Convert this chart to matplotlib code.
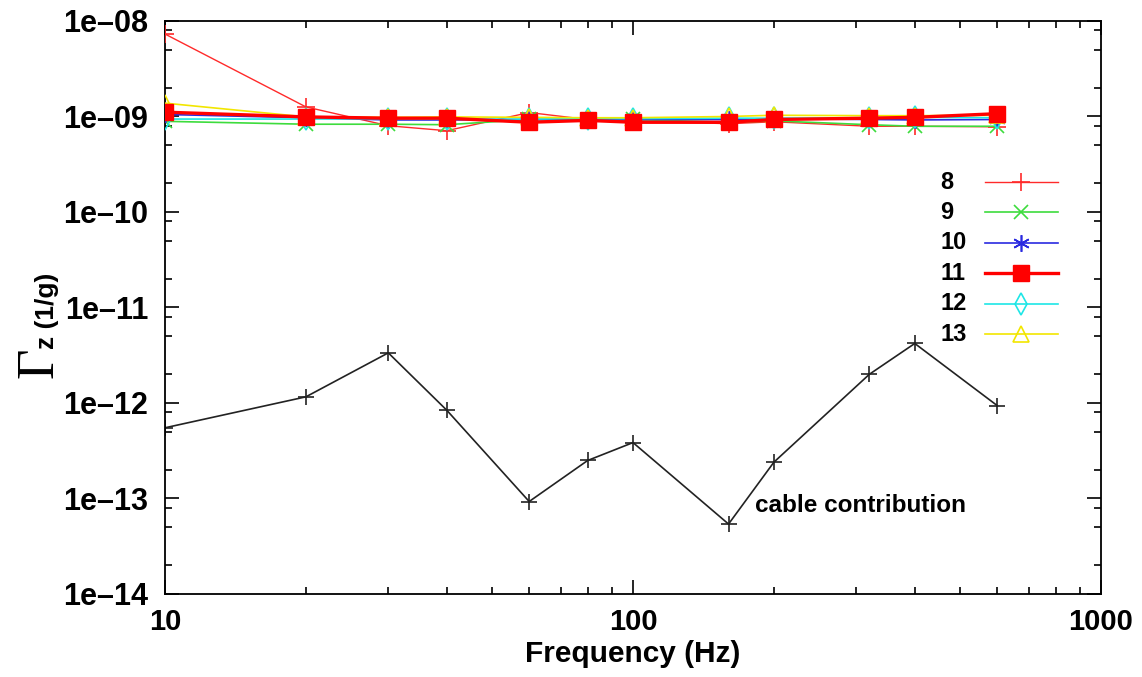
import matplotlib
matplotlib.use("Agg")
import matplotlib.pyplot as plt
from matplotlib.lines import Line2D
from matplotlib.ticker import LogLocator, FixedLocator, FixedFormatter, NullFormatter

plt.rcParams['font.family'] = ['Liberation Sans', 'DejaVu Sans']
plt.rcParams['font.weight'] = 'bold'

# frequencies of the measurement points (Hz)
freq = [10, 20, 30, 40, 60, 80, 100, 160, 200, 320, 400, 600]

# Gamma_z per channel (1/g)
ch8 = [7.3e-9, 1.26e-9, 8.0e-10, 7.1e-10, 1.1e-9, 9.3e-10, 9.0e-10, 8.4e-10, 8.8e-10, 7.9e-10, 7.9e-10, 7.8e-10]
ch9 = [8.9e-10, 8.3e-10, 8.3e-10, 8.2e-10, 9.3e-10, 9.2e-10, 9.3e-10, 8.7e-10, 9.0e-10, 8.2e-10, 7.9e-10, 7.9e-10]
ch10 = [1.05e-9, 9.7e-10, 9.2e-10, 9.2e-10, 9.3e-10, 9.3e-10, 9.3e-10, 9.3e-10, 9.5e-10, 9.3e-10, 9.2e-10, 9.3e-10]
ch11 = [1.11e-9, 9.9e-10, 9.6e-10, 9.6e-10, 8.7e-10, 9.1e-10, 8.7e-10, 8.7e-10, 9.3e-10, 9.6e-10, 9.8e-10, 1.07e-9]
ch12 = [9.4e-10, 9.4e-10, 9.5e-10, 9.4e-10, 9.4e-10, 9.5e-10, 9.5e-10, 9.6e-10, 9.6e-10, 9.7e-10, 9.8e-10, 9.7e-10]
ch13 = [1.38e-9, 9.9e-10, 9.8e-10, 9.9e-10, 9.8e-10, 9.7e-10, 9.7e-10, 1.0e-9, 1.03e-9, 1.02e-9, 1.02e-9, 1.03e-9]

cable = [5.5e-13, 1.16e-12, 3.35e-12, 8.4e-13, 9.3e-14, 2.5e-13, 3.85e-13, 5.4e-14, 2.4e-13, 2.0e-12, 4.2e-12, 9.4e-13]

labels = ["8", "9", "10", "11", "12", "13"]
yticks = [1e-14, 1e-13, 1e-12, 1e-11, 1e-10, 1e-9, 1e-8]
ytick_labels = ["1e\u201314", "1e\u201313", "1e\u201312", "1e\u201311", "1e\u201310", "1e\u201309", "1e\u201308"]
xticks = [10, 100, 1000]
xtick_labels = ["10", "100", "1000"]

styles = [
    dict(color='#ff2a2a', marker='+', ms=13, lw=1.0, mew=1.2, mfc='none'),
    dict(color='#3ddc3d', marker='x', ms=10, lw=1.2, mew=1.2, mfc='none'),
    dict(color='#2a2ae0', marker=(6, 2, 0), ms=12, lw=1.2, mew=1.2, mfc='none'),
    dict(color='#ff0000', marker='s', ms=12, lw=2.4, mew=1.0, mfc='#ff0000'),
    dict(color='#1ee6e6', marker='d', ms=11, lw=1.2, mew=1.2, mfc='none'),
    dict(color='#f2e600', marker='^', ms=11, lw=1.2, mew=1.2, mfc='none'),
]
series = [ch8, ch9, ch10, ch11, ch12, ch13]
order = [1, 2, 3, 6, 4, 5]

fig = plt.figure(figsize=(11.42, 6.77), dpi=100)
ax = fig.add_axes([0.1445, 0.1226, 0.8196, 0.8464])

for vals, st, z in zip(series, styles, order):
    ax.plot(freq, vals, zorder=z + 2, **st)

ax.plot(freq, cable, color='#222222', marker='+', ms=11, lw=1.2, mew=1.2)

ax.set_xscale('log')
ax.set_yscale('log')
ax.set_xlim(10, 1000)
ax.set_ylim(1e-14, 1e-8)

ax.yaxis.set_major_locator(FixedLocator(yticks))
ax.yaxis.set_major_formatter(FixedFormatter(ytick_labels))
ax.yaxis.set_minor_locator(LogLocator(base=10, subs=(2, 5, 8)))
ax.yaxis.set_minor_formatter(NullFormatter())
ax.xaxis.set_major_locator(FixedLocator(xticks))
ax.xaxis.set_major_formatter(FixedFormatter(xtick_labels))
ax.xaxis.set_minor_locator(LogLocator(base=10, subs=range(2, 10)))
ax.xaxis.set_minor_formatter(NullFormatter())

ax.tick_params(which='both', direction='in', top=True, right=True, width=1.2)
ax.tick_params(which='major', length=10)
ax.tick_params(which='minor', length=5)
ax.tick_params(axis='y', labelsize=22, pad=12)
ax.tick_params(axis='x', labelsize=21, pad=10)
for s in ax.spines.values():
    s.set_linewidth(1.3)

ax.set_xlabel("Frequency (Hz)", fontsize=21.5, fontweight='bold', labelpad=3)

# y label: serif capital Gamma followed by "z (1/g)" in bold sans
fig.text(40 / 1142, 1 - 363 / 677, "\u0393", rotation=90, ha='center', va='center',
         fontsize=38, family=['Liberation Serif', 'DejaVu Serif'], fontweight='normal')
fig.text(47 / 1142, 1 - 311 / 677, "z (1/g)", rotation=90, ha='center', va='center',
         fontsize=19, fontweight='bold')

ax.text(0.630, 0.155, "cable contribution", transform=ax.transAxes,
        ha='left', va='center', fontsize=17.5, fontweight='bold')

# legend: label on the left, sample line with marker on the right
row_y0 = 0.719
row_dy = 0.0532
for i, (lab, st) in enumerate(zip(labels, styles)):
    yy = row_y0 - i * row_dy
    ax.text(0.828, yy, lab, transform=ax.transAxes, ha='left', va='center',
            fontsize=17, fontweight='bold')
    ax.add_line(Line2D([0.876, 0.954], [yy, yy], transform=ax.transAxes,
                       color=st['color'], lw=st['lw'], zorder=10))
    ax.add_line(Line2D([0.915], [yy], transform=ax.transAxes, color=st['color'],
                       marker=st['marker'], ms=st['ms'], mew=st['mew'],
                       mfc=st['mfc'], ls='none', zorder=11))

fig.savefig("out.png", dpi=100)
